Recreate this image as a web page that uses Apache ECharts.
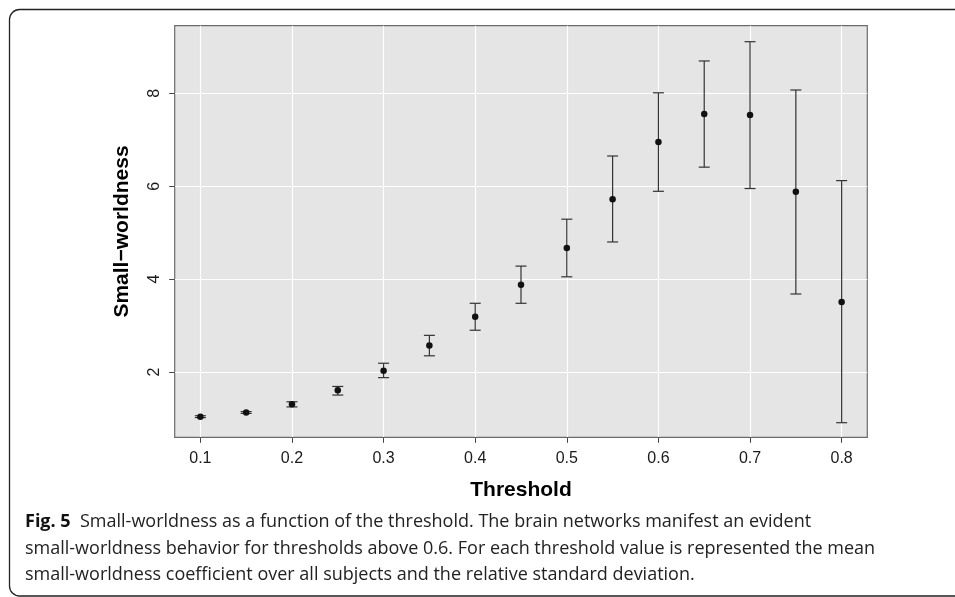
<!DOCTYPE html>
<html>
<head>
<meta charset="utf-8">
<script src="https://cdn.jsdelivr.net/npm/echarts@6/dist/echarts.min.js"></script>
<style>
html,body{margin:0;padding:0;background:#fff;}
#chart{width:955px;height:597px;}
</style>
</head>
<body>
<div id="chart"></div>
<script>
// Data
const thresholds = [0.1, 0.15, 0.2, 0.25, 0.3, 0.35, 0.4, 0.45, 0.5, 0.55, 0.6, 0.65, 0.7, 0.75, 0.8];
const means      = [1.04, 1.13, 1.305, 1.61, 2.03, 2.57, 3.19, 3.88, 4.67, 5.72, 6.95, 7.555, 7.53, 5.88, 3.51];
const lowers     = [1.02, 1.11, 1.25, 1.505, 1.88, 2.35, 2.90, 3.48, 4.05, 4.80, 5.89, 6.41, 5.95, 3.68, 0.91];
const uppers     = [1.06, 1.15, 1.36, 1.69, 2.19, 2.79, 3.48, 4.28, 5.29, 6.65, 8.01, 8.695, 9.11, 8.07, 6.12];
const xTicks = [0.1, 0.2, 0.3, 0.4, 0.5, 0.6, 0.7, 0.8];
const yTicks = [2, 4, 6, 8];
const xLabel = 'Threshold';
const yLabel = 'Small\u2212worldness';
const captionBold = 'Fig. 5';
const captionLines = [
  '  Small-worldness as a function of the threshold. The brain networks manifest an evident',
  'small-worldness behavior for thresholds above 0.6. For each threshold value is represented the mean',
  'small-worldness coefficient over all subjects and the relative standard deviation.'
];

const pointData = thresholds.map((t, i) => [t, means[i]]);
const barData = thresholds.map((t, i) => [t, lowers[i], uppers[i]]);

const chart = echarts.init(document.getElementById('chart'), null, {renderer: 'canvas'});
const axisFont = '"Liberation Sans", Arial, Helvetica, sans-serif';
const capFont = '"Open Sans", "Noto Sans", sans-serif';

chart.setOption({
  animation: false,
  backgroundColor: '#ffffff',
  grid: {
    left: 174.7, top: 25.7, right: 87.7, bottom: 159.7,
    show: true, backgroundColor: '#E5E5E5', borderColor: '#6b6b6b', borderWidth: 1.2
  },
  xAxis: {
    type: 'value', min: 0.072, max: 0.828,
    name: xLabel, nameLocation: 'middle', nameGap: 42,
    nameTextStyle: {fontFamily: axisFont, fontWeight: 'bold', fontSize: 21, color: '#000'},
    axisLine: {show: false},
    axisTick: {show: true, customValues: xTicks, length: 5.5, lineStyle: {color: '#444', width: 1}},
    axisLabel: {customValues: xTicks, margin: 13, fontFamily: axisFont, fontSize: 16, color: '#1a1a1a'},
    splitLine: {show: true, lineStyle: {color: '#ffffff', width: 1.2}}
  },
  yAxis: {
    type: 'value', min: 0.596, max: 9.454,
    name: yLabel, nameLocation: 'middle', nameGap: 42, nameRotate: 90,
    nameTextStyle: {fontFamily: axisFont, fontWeight: 'bold', fontSize: 21, color: '#000'},
    axisLine: {show: false},
    axisTick: {show: true, customValues: yTicks, length: 5.5, lineStyle: {color: '#444', width: 1}},
    axisLabel: {customValues: yTicks, rotate: 90, margin: 12, fontFamily: axisFont, fontSize: 16, color: '#1a1a1a'},
    splitLine: {show: true, lineStyle: {color: '#ffffff', width: 1.2}}
  },
  series: [
    {
      type: 'custom',
      data: barData,
      z: 2,
      renderItem: function (params, api) {
        const x = api.value(0);
        const lo = api.coord([x, api.value(1)]);
        const hi = api.coord([x, api.value(2)]);
        const hw = 5.5;
        const style = {stroke: '#333', lineWidth: 1.2};
        return {
          type: 'group',
          children: [
            {type: 'line', shape: {x1: lo[0], y1: lo[1], x2: hi[0], y2: hi[1]}, style: style},
            {type: 'line', shape: {x1: hi[0] - hw, y1: hi[1], x2: hi[0] + hw, y2: hi[1]}, style: style},
            {type: 'line', shape: {x1: lo[0] - hw, y1: lo[1], x2: lo[0] + hw, y2: lo[1]}, style: style}
          ]
        };
      }
    },
    {
      type: 'scatter',
      data: pointData,
      z: 3,
      symbol: 'circle',
      symbolSize: 6.5,
      itemStyle: {color: '#111', opacity: 1}
    }
  ],
  graphic: [
    {
      type: 'rect',
      shape: {x: 9.5, y: 9.5, width: 980, height: 586.5, r: 10},
      style: {fill: 'none', stroke: '#222', lineWidth: 1.3},
      silent: true
    },
    {
      type: 'text',
      left: 25, top: 513,
      style: {
        text: '{b|' + captionBold + '}{n|' + captionLines[0] + '}\n{n|' + captionLines[1] + '}\n{n|' + captionLines[2] + '}',
        rich: {
          b: {fontFamily: capFont, fontWeight: 'bold', fontSize: 18, lineHeight: 26.5, fill: '#111'},
          n: {fontFamily: capFont, fontSize: 18, lineHeight: 26.5, fill: '#222'}
        }
      }
    }
  ]
});
</script>
</body>
</html>
